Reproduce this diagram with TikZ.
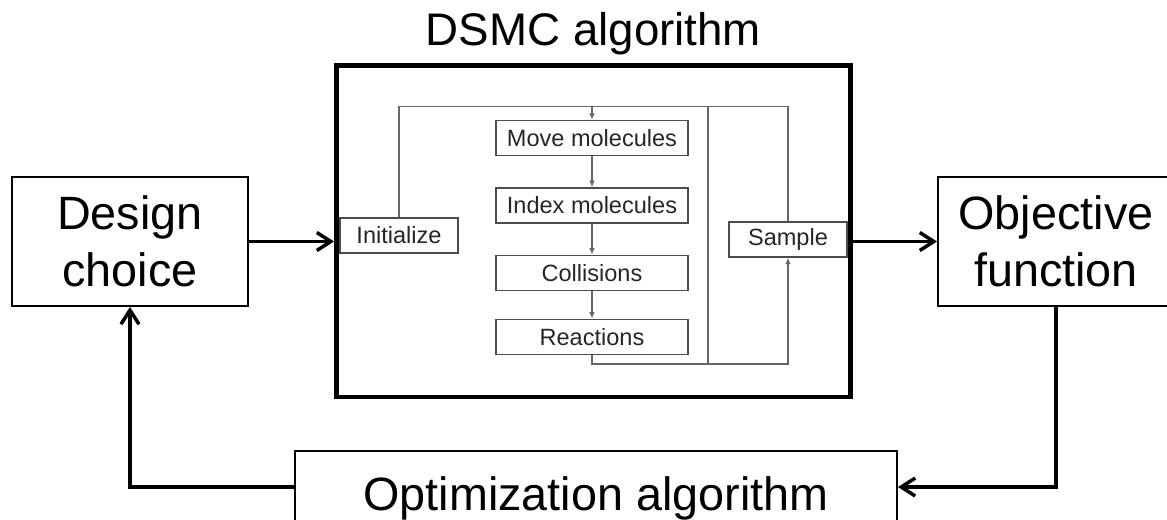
\documentclass[tikz,border=0pt]{standalone}
\usepackage{fontspec}
\setmainfont{Liberation Sans}
\usetikzlibrary{arrows.meta}
\usetikzlibrary{positioning}

\begin{document}
\begin{tikzpicture}[
  bigbox/.style={draw=black,line width=1.1pt,inner sep=0pt,align=center,font=\fontsize{26.6}{32.3}\selectfont},
  stepbox/.style={draw=black!70,line width=0.8pt,inner sep=0pt,minimum height=0.7cm,text=black!85,font=\fontsize{13.4}{16}\selectfont},
  bigarrow/.style={line width=2pt,-{Straight Barb[length=2.8mm,width=3.6mm]}},
  flow/.style={draw=black!60,line width=0.6pt},
  flowarrow/.style={flow,-{Latex[length=1.3mm,width=1.1mm]}}]
\useasboundingbox (0,0) rectangle (23.34,10.38);

\node[bigbox,minimum width=4.72cm,minimum height=2.58cm] (design) at (2.60,5.55) {Design\\choice};
\node[bigbox,minimum width=4.72cm,minimum height=2.58cm] (objective) at (21.12,5.55) {Objective\\function};
\node[bigbox,minimum width=12.04cm,minimum height=1.44cm,text height=0.92cm,text depth=0pt] (opt) at (11.92,0.64) {Optimization algorithm};
\node[draw=black,line width=2.8pt,inner sep=0pt,minimum width=10.28cm,minimum height=6.63cm] (dsmc) at (11.87,5.755) {};
\node[font=\fontsize{26}{30}\selectfont,anchor=base] (title) at (11.87,9.48) {DSMC algorithm};

\node[stepbox,minimum width=2.36cm] (init) at (7.98,5.67) {Initialize};
\node[stepbox,minimum width=3.84cm] (move) at (11.84,7.62) {Move molecules};
\node[stepbox,minimum width=3.84cm,below=0.62cm of move] (index) {Index molecules};
\node[stepbox,minimum width=3.84cm,below=0.62cm of index] (coll) {Collisions};
\node[stepbox,minimum width=3.84cm,below=0.55cm of coll] (react) {Reactions};
\node[stepbox,minimum width=2.36cm] (sample) at (15.76,5.59) {Sample};
\coordinate (looptop) at (14.16,8.25);
\coordinate (loopbottom) at (14.16,3.10);

\draw[flow] (init.north) |- (sample.north |- looptop) -- (sample.north);
\draw[flowarrow] (move.north |- looptop) -- (move.north);
\foreach \a/\b in {move/index,index/coll,coll/react}
  \draw[flowarrow] (\a) -- (\b);
\draw[flowarrow] (react.south) |- (sample.south |- loopbottom) -- (sample.south);
\draw[flow] (looptop) -- (loopbottom);

\draw[bigarrow] (design.east) -- (design.east -| dsmc.west);
\draw[bigarrow] (dsmc.east |- objective.west) -- (objective.west);
\draw[bigarrow] (objective.south) |- (opt.east);
\draw[bigarrow] (opt.west) -| (design.south);

\end{tikzpicture}
\end{document}
